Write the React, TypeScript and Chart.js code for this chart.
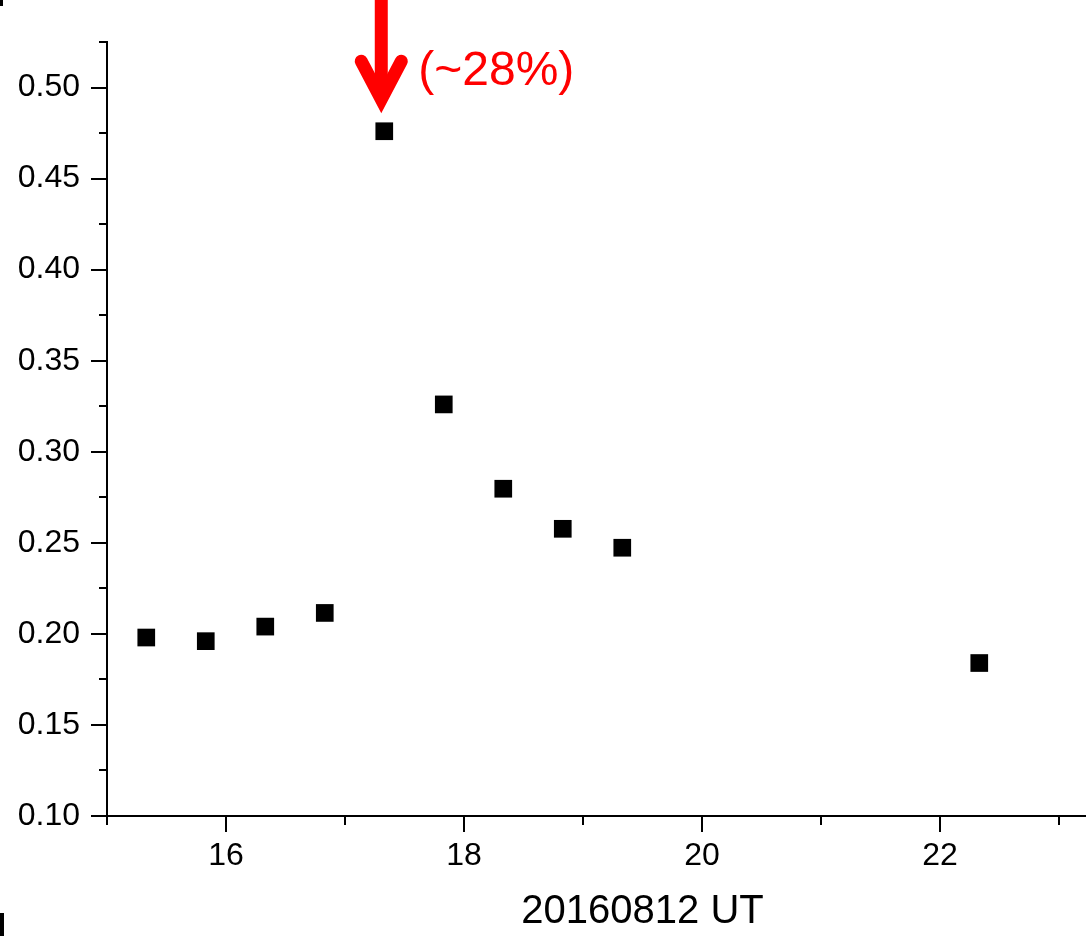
import { useEffect, useRef } from 'react';
import { Chart, registerables } from 'chart.js';

Chart.register(...registerables);

// Observation times (UT hours on 2016-08-12) and measured ratio
const timesUT = [15.33, 15.83, 16.33, 16.83, 17.33, 17.83, 18.33, 18.83, 19.33, 22.33];
const ratioValues = [0.198, 0.196, 0.204, 0.2115, 0.476, 0.326, 0.2797, 0.2577, 0.2473, 0.184];

// Axis ticks
const xTickValues = [16, 18, 20, 22];
const xMinorValues = [15, 17, 19, 21, 23];
const yTickValues = [0.1, 0.15, 0.2, 0.25, 0.3, 0.35, 0.4, 0.45, 0.5];
const yMinorValues = [0.125, 0.175, 0.225, 0.275, 0.325, 0.375, 0.425, 0.475, 0.525];

// Annotation on the peak
const peakIndex = 4;
const peakLabel = '(~28%)';
const xTitle = '20160812 UT';

const FONT = '"Liberation Sans", Arial, sans-serif';

// Origin-style outward ticks (major + minor) and the x tick labels
const axisTicks = {
  id: 'axisTicks',
  afterDraw(chart: any) {
    const { ctx, chartArea, scales } = chart;
    const xs = scales.x;
    const ys = scales.y;
    ctx.save();
    ctx.strokeStyle = '#000';
    ctx.lineWidth = 2;
    ctx.lineCap = 'butt';
    const seg = (x1: number, y1: number, x2: number, y2: number) => {
      ctx.beginPath();
      ctx.moveTo(x1, y1);
      ctx.lineTo(x2, y2);
      ctx.stroke();
    };
    const b = chartArea.bottom;
    const l = chartArea.left;
    [...xTickValues, 24].forEach((v) => {
      const px = Math.round(xs.getPixelForValue(v));
      seg(px, b, px, b + 16);
    });
    xMinorValues.forEach((v) => {
      const px = Math.round(xs.getPixelForValue(v));
      seg(px, b, px, b + 9);
    });
    yTickValues.forEach((v) => {
      const py = Math.round(ys.getPixelForValue(v));
      seg(l - 16, py, l, py);
    });
    yMinorValues.forEach((v) => {
      const py = Math.round(ys.getPixelForValue(v));
      seg(l - 8, py, l, py);
    });

    ctx.fillStyle = '#000';
    ctx.font = `32px ${FONT}`;
    ctx.textAlign = 'center';
    ctx.textBaseline = 'middle';
    xTickValues.forEach((v) => {
      ctx.fillText(String(v), xs.getPixelForValue(v), b + 40);
    });

    // small panel edge marks on the left border
    ctx.fillRect(0, 0, 3, 6);
    ctx.fillRect(0, 913, 4, 23);
    ctx.restore();
  },
};

const peakArrow = {
  id: 'peakArrow',
  afterDatasetsDraw(chart: any) {
    const { ctx } = chart;
    const pt = chart.getDatasetMeta(0).data[peakIndex];
    if (!pt) return;
    const ax = pt.x - 3;
    const vy = pt.y - 32;
    ctx.save();
    ctx.strokeStyle = '#ff0000';
    ctx.fillStyle = '#ff0000';
    ctx.lineWidth = 13;
    ctx.lineCap = 'butt';
    ctx.beginPath();
    ctx.moveTo(ax, -5);
    ctx.lineTo(ax, vy);
    ctx.stroke();
    ctx.lineCap = 'round';
    ctx.lineJoin = 'miter';
    ctx.beginPath();
    ctx.moveTo(ax - 20, vy - 38);
    ctx.lineTo(ax, vy);
    ctx.lineTo(ax + 20, vy - 38);
    ctx.stroke();
    ctx.font = `48px ${FONT}`;
    ctx.textBaseline = 'alphabetic';
    ctx.textAlign = 'left';
    ctx.fillText(peakLabel, pt.x + 34, pt.y - 46);
    ctx.restore();
  },
};

export default function App() {
  const canvasRef = useRef<HTMLCanvasElement>(null);

  useEffect(() => {
    const canvas = canvasRef.current;
    if (!canvas) return;
    const chart = new Chart(canvas, {
      type: 'scatter',
      data: {
        datasets: [
          {
            data: timesUT.map((t, i) => ({ x: t, y: ratioValues[i] })),
            pointStyle: 'rect',
            pointRadius: 12.5,
            pointHoverRadius: 12.5,
            backgroundColor: '#000',
            borderColor: '#000',
            borderWidth: 0,
          },
        ],
      },
      options: {
        responsive: false,
        animation: false,
        devicePixelRatio: 1,
        layout: { padding: { top: 42, right: 18, left: 0, bottom: 0 } },
        plugins: { legend: { display: false }, tooltip: { enabled: false } },
        scales: {
          x: {
            type: 'linear',
            min: 15,
            max: 24,
            afterBuildTicks: (s: any) => {
              s.ticks = xTickValues.map((v) => ({ value: v }));
            },
            afterFit: (s: any) => {
              s.height = 120;
              s.paddingLeft = 0;
              s.paddingRight = 0;
            },
            grid: { display: false },
            border: { display: true, color: '#000', width: 2 },
            ticks: { display: false },
            title: {
              display: true,
              text: xTitle,
              color: '#000',
              font: { family: FONT, size: 40 },
              padding: { top: 0, bottom: 0 },
            },
          },
          y: {
            type: 'linear',
            min: 0.1,
            max: 0.525,
            afterBuildTicks: (s: any) => {
              s.ticks = yTickValues.map((v) => ({ value: v }));
            },
            afterFit: (s: any) => {
              s.width = 107;
              s.paddingTop = 0;
              s.paddingBottom = 0;
            },
            grid: { display: false },
            border: { display: true, color: '#000', width: 2 },
            ticks: {
              color: '#000',
              font: { family: FONT, size: 32 },
              padding: 19,
              autoSkip: false,
              callback: (v: any) => Number(v).toFixed(2),
            },
          },
        },
      },
      plugins: [axisTicks, peakArrow],
    });
    return () => chart.destroy();
  }, []);

  return (
    <div
      style={{
        position: 'absolute',
        left: 0,
        top: 0,
        width: 1086,
        height: 936,
        overflow: 'hidden',
        background: '#fff',
      }}
    >
      <canvas ref={canvasRef} width={1196} height={936} style={{ display: 'block' }} />
    </div>
  );
}
